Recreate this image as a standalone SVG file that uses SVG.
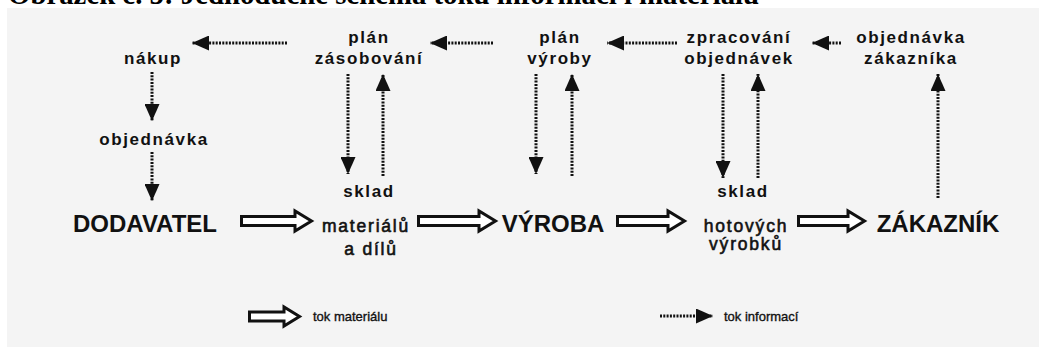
<svg xmlns="http://www.w3.org/2000/svg" width="1039" height="347" viewBox="0 0 1039 347">
  <style>
    .title { font-family: "Liberation Serif", "Times New Roman", serif; font-weight: bold; font-size: 28.8px; fill: #000; }
    .t { font-family: "Liberation Sans", Arial, sans-serif; font-weight: bold; font-size: 17px; letter-spacing: 1.6px; text-anchor: middle; fill: #111; }
    .m { font-family: "Liberation Sans", Arial, sans-serif; font-weight: normal; font-size: 17.5px; letter-spacing: 1.8px; text-anchor: middle; fill: #111; stroke: #111; stroke-width: 0.6px; }
    .big { font-family: "Liberation Sans", Arial, sans-serif; font-weight: bold; font-size: 24px; text-anchor: middle; fill: #111; }
    .leg { font-family: "Liberation Sans", Arial, sans-serif; font-weight: normal; font-size: 13px; fill: #111; stroke: #111; stroke-width: 0.35px; }
    .info { fill: none; stroke: #111; stroke-width: 3; stroke-dasharray: 2 1.3; marker-end: url(#head); }
    .mat { fill: #fff; stroke: #111; stroke-width: 3; stroke-linejoin: miter; }
  </style>
  <defs>
    <marker id="head" markerUnits="userSpaceOnUse" markerWidth="17" markerHeight="15" refX="17" refY="7.5" orient="auto">
      <path d="M0,0 L17,7.5 L0,15 Z" fill="#111"/>
    </marker>
  </defs>

  <rect x="0" y="0" width="1039" height="347" fill="#ffffff"/>
  <rect x="7" y="8" width="1032" height="339" fill="#f4f4f4"/>
  <text class="title" x="8" y="4">Obrázek č. 5: Jednoduché schéma toku informací i materiálu</text>

  <g id="connectors">
    <!-- information flows, top row -->
    <line class="info" x1="287" y1="43" x2="192" y2="43"/>
    <line class="info" x1="493" y1="43" x2="430" y2="43"/>
    <line class="info" x1="677" y1="43" x2="607" y2="43"/>
    <line class="info" x1="841" y1="43" x2="812" y2="43"/>
    <!-- nákup / objednávka -->
    <line class="info" x1="152" y1="72" x2="152" y2="121"/>
    <line class="info" x1="152" y1="152" x2="152" y2="201"/>
    <!-- plán zásobování -->
    <line class="info" x1="348" y1="74" x2="348" y2="174"/>
    <line class="info" x1="383" y1="176" x2="383" y2="74"/>
    <!-- plán výroby -->
    <line class="info" x1="536" y1="74" x2="536" y2="174"/>
    <line class="info" x1="572" y1="176" x2="572" y2="74"/>
    <!-- zpracování objednávek -->
    <line class="info" x1="723" y1="74" x2="723" y2="178"/>
    <line class="info" x1="758" y1="178" x2="758" y2="74"/>
    <!-- objednávka zákazníka -->
    <line class="info" x1="938" y1="198" x2="938" y2="74"/>
    <!-- material flows -->
    <path class="mat" d="M241.5,216.5 H295 V211 L311.5,221 L295,231 V225.5 H241.5 Z"/>
    <path class="mat" d="M418.5,216.5 H479 V211 L495.5,221 L479,231 V225.5 H418.5 Z"/>
    <path class="mat" d="M617.5,216.5 H668 V211 L684.5,221 L668,231 V225.5 H617.5 Z"/>
    <path class="mat" d="M798.5,216.5 H848 V211 L864.5,221 L848,231 V225.5 H798.5 Z"/>
  </g>

  <g id="nakup"><text class="t" x="153" y="64">nákup</text></g>
  <g id="plan-zasobovani">
    <text class="t" x="369" y="43">plán</text>
    <text class="t" x="369" y="64">zásobování</text>
  </g>
  <g id="plan-vyroby">
    <text class="t" x="560" y="43">plán</text>
    <text class="t" x="560" y="64">výroby</text>
  </g>
  <g id="zpracovani-objednavek">
    <text class="t" x="739" y="43">zpracování</text>
    <text class="t" x="739" y="64">objednávek</text>
  </g>
  <g id="objednavka-zakaznika">
    <text class="t" x="911" y="43">objednávka</text>
    <text class="t" x="911" y="64">zákazníka</text>
  </g>
  <g id="objednavka"><text class="t" x="154" y="145">objednávka</text></g>

  <g id="dodavatel"><text class="big" x="145" y="232">DODAVATEL</text></g>
  <g id="sklad-materialu">
    <text class="t" x="369" y="197">sklad</text>
    <text class="m" x="366" y="232">materiálů</text>
    <text class="m" x="371" y="255">a dílů</text>
  </g>
  <g id="vyroba"><text class="big" x="553" y="232">VÝROBA</text></g>
  <g id="sklad-hotovych">
    <text class="t" x="743" y="197">sklad</text>
    <text class="m" x="746" y="232">hotových</text>
    <text class="m" x="746" y="250">výrobků</text>
  </g>
  <g id="zakaznik"><text class="big" x="938" y="232">ZÁKAZNÍK</text></g>

  <g id="legend">
    <path class="mat" d="M249.5,312 H284 V307 L299.5,316.5 L284,326 V321 H249.5 Z"/>
    <text class="leg" x="313" y="321">tok materiálu</text>
    <line class="info" x1="660" y1="316" x2="713" y2="316"/>
    <text class="leg" x="724" y="321">tok informací</text>
  </g>
</svg>
